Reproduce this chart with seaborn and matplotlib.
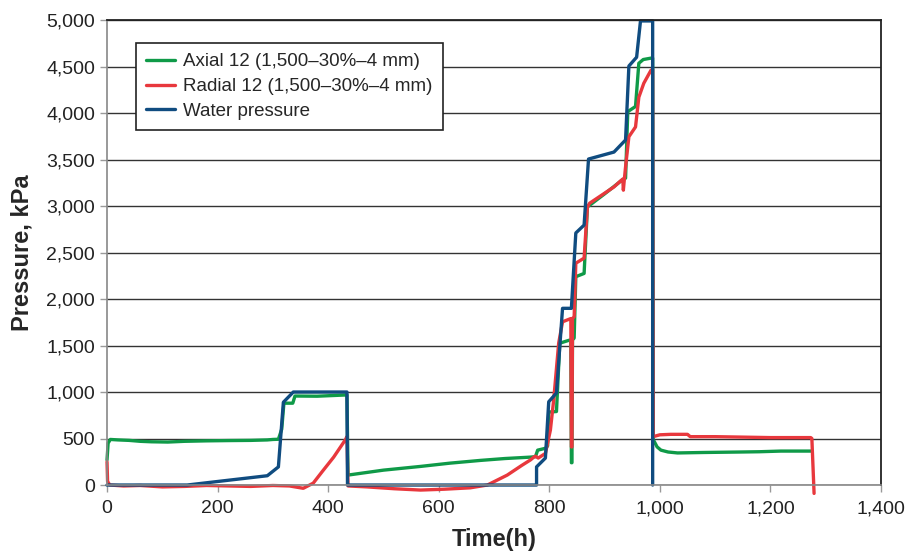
import pandas as pd
import matplotlib
matplotlib.use("Agg")
import matplotlib.pyplot as plt
from matplotlib.ticker import FuncFormatter
import seaborn as sns

# Data (time in h, pressure in kPa)
axial_t = [0, 2, 6, 20, 40, 60, 80, 110, 140, 180, 220, 260, 290, 300, 310,
           316, 320, 336, 340, 380, 431, 434, 436, 500, 567, 620, 676, 720,
           766, 775, 779, 793, 797, 799, 813, 819, 835, 839, 840, 841, 842,
           845, 848, 863, 869, 900, 932, 938, 942, 956, 962, 970, 984, 987,
           988, 995, 1002, 1015, 1032, 1080, 1146, 1180, 1219, 1273]
axial_p = [270, 450, 490, 485, 480, 470, 465, 462, 470, 475, 478, 480, 485,
           490, 492, 600, 880, 880, 957, 955, 968, 968, 107, 160, 200, 235,
           265, 285, 300, 305, 375, 395, 420, 785, 790, 1525, 1555, 1560,
           240, 240, 1560, 1580, 2240, 2275, 2990, 3130, 3280, 3300, 4015,
           4070, 4535, 4575, 4590, 4590, 490, 410, 375, 355, 345, 350, 355,
           358, 365, 365]

radial_t = [0, 1, 5, 30, 60, 100, 140, 180, 220, 260, 300, 330, 355, 373,
            390, 410, 431, 434, 436, 470, 520, 567, 610, 657, 688, 724, 750,
            766, 772, 775, 780, 793, 802, 808, 817, 824, 839, 840, 841, 842,
            845, 848, 863, 869, 873, 917, 929, 933, 934, 936, 938, 944, 956,
            962, 971, 984, 987, 988, 1000, 1020, 1050, 1055, 1100, 1150, 1200,
            1240, 1273, 1275, 1279]
radial_p = [250, 40, 0, -10, -5, -20, -15, -5, -10, -15, -5, -10, -35, 20,
            150, 300, 485, 520, -10, -20, -40, -54, -45, -30, 0, 107, 210,
            270, 300, 310, 290, 340, 590, 915, 1525, 1755, 1790, 410, 410,
            1790, 1810, 2385, 2440, 2990, 3030, 3205, 3270, 3290, 3170, 3300,
            3420, 3745, 3850, 4170, 4320, 4460, 4470, 520, 540, 545, 545, 520,
            520, 515, 510, 510, 510, 500, -90]

water_t = [0, 145, 290, 310, 319, 337, 434, 435, 777, 777, 793, 799, 813,
           824, 840, 848, 863, 871, 917, 938, 944, 958, 965, 987, 987]
water_p = [0, 0, 100, 195, 890, 1000, 1000, 0, 0, 195, 290, 895, 990, 1900,
           1900, 2710, 2795, 3505, 3580, 3710, 4505, 4600, 4990, 4990, 0]

labels = ["Axial 12 (1,500\u201330%\u20134 mm)",
          "Radial 12 (1,500\u201330%\u20134 mm)",
          "Water pressure"]

frames = []
for name, t, p in zip(labels, [axial_t, radial_t, water_t], [axial_p, radial_p, water_p]):
    frames.append(pd.DataFrame({"Time": t, "Pressure": p, "series": name}))
df = pd.concat(frames, ignore_index=True)

sns.set_theme(style="ticks")
plt.rcParams["font.family"] = ["Liberation Sans", "DejaVu Sans"]

fig = plt.figure(figsize=(9.1, 5.54), dpi=100)
ax = fig.add_axes([0.1176, 0.1245, 0.8505, 0.8394])

palette = {labels[0]: "#0f9a48", labels[1]: "#e8383d", labels[2]: "#104c80"}
sns.lineplot(data=df, x="Time", y="Pressure", hue="series", palette=palette,
             estimator=None, sort=False, linewidth=2.4, ax=ax)
for line in ax.get_lines():
    line.set_clip_on(False)

ax.set_xlim(0, 1400)
ax.set_ylim(0, 5000)
ax.set_xticks(range(0, 1401, 200))
ax.set_yticks(range(0, 5001, 500))
fmt = FuncFormatter(lambda v, pos: f"{int(v):,}")
ax.xaxis.set_major_formatter(fmt)
ax.yaxis.set_major_formatter(fmt)
ax.tick_params(labelsize=14, colors="#222222", length=5, width=1)
ax.tick_params(axis="both", color="#999999")
ax.tick_params(axis="x", pad=6)
ax.yaxis.grid(True, color="#333333", linewidth=1)
ax.set_axisbelow(True)

for side in ["top", "right"]:
    ax.spines[side].set_color("#222222")
    ax.spines[side].set_linewidth(1.3)
for side in ["left", "bottom"]:
    ax.spines[side].set_color("#888888")
    ax.spines[side].set_linewidth(1.2)

ax.set_xlabel("Time(h)", fontsize=17, fontweight="bold", labelpad=8)
ax.set_ylabel("Pressure, kPa", fontsize=17, fontweight="bold", labelpad=9)

leg = ax.legend(loc="upper left", bbox_to_anchor=(0.0375, 0.9505),
                borderaxespad=0, fontsize=13.5, frameon=True, fancybox=False,
                edgecolor="#222222", framealpha=1, handlelength=1.55,
                handletextpad=0.4, labelspacing=0.4, borderpad=0.55,
                title=None)
leg.get_frame().set_linewidth(1.2)

fig.savefig("out.png", dpi=100)
